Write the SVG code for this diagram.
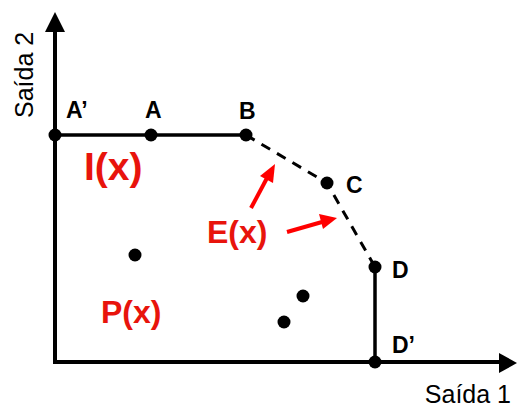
<svg xmlns="http://www.w3.org/2000/svg" width="517" height="409" viewBox="0 0 517 409">
<style>
.ax{stroke:#000;stroke-width:4;fill:none}
.ln{stroke:#000;stroke-width:3.5;fill:none}
.ds{stroke:#000;stroke-width:3;fill:none;stroke-dasharray:10 8}
.dot{fill:#000}
.lbl{font-family:"Liberation Sans",Arial,sans-serif;font-weight:bold;font-size:23px;fill:#000}
.red{font-family:"Liberation Sans",Arial,sans-serif;font-weight:bold;fill:#e8140c}
.axl{font-family:"Liberation Sans",Arial,sans-serif;font-size:25px;fill:#000}
.ra{stroke:#f00;stroke-width:4;fill:none}
</style>
<g id="axes">
<line class="ax" x1="55" y1="364" x2="55" y2="28"/>
<polygon points="55,12 45,32 65,32" fill="#000"/>
<line class="ax" x1="53" y1="362" x2="502" y2="362"/>
<polygon points="517,363 499,353 499,373" fill="#000"/>
<text class="axl" x="511" y="403" text-anchor="end">Saída 1</text>
<text class="axl" transform="translate(33,118) rotate(-90)">Saída 2</text>
</g>
<g id="connectors">
<line class="ln" x1="55" y1="135" x2="246" y2="135"/>
<polyline class="ds" points="246,135 327,183 375,267"/>
<line class="ln" x1="375" y1="267" x2="375" y2="362"/>
<line class="ra" x1="251" y1="208" x2="267" y2="178"/>
<polygon points="275,164 260,176 273,183" fill="#f00"/>
<line class="ra" x1="287" y1="232" x2="322" y2="222"/>
<polygon points="337,218 319,214 323,229" fill="#f00"/>
</g>
<g id="A1"><circle class="dot" cx="55" cy="135" r="6.5"/><text class="lbl" x="66" y="118">A’</text></g>
<g id="A"><circle class="dot" cx="151" cy="135" r="6.5"/><text class="lbl" x="145" y="118">A</text></g>
<g id="B"><circle class="dot" cx="246" cy="135" r="6.5"/><text class="lbl" x="239" y="119">B</text></g>
<g id="C"><circle class="dot" cx="327" cy="183" r="6.5"/><text class="lbl" x="346" y="193">C</text></g>
<g id="D"><circle class="dot" cx="375" cy="267" r="6.5"/><text class="lbl" x="392" y="278">D</text></g>
<g id="D1"><circle class="dot" cx="375" cy="362" r="6.5"/><text class="lbl" x="392" y="353">D’</text></g>
<g id="P1"><circle class="dot" cx="135" cy="255" r="6.5"/></g>
<g id="P2"><circle class="dot" cx="303" cy="296" r="6.5"/></g>
<g id="P3"><circle class="dot" cx="284" cy="322" r="6.5"/></g>
<g id="Ix"><text class="red" x="84" y="180" font-size="39">I(x)</text></g>
<g id="Ex"><text class="red" x="207" y="243" font-size="32">E(x)</text></g>
<g id="Px"><text class="red" x="101" y="323" font-size="32">P(x)</text></g>
</svg>
